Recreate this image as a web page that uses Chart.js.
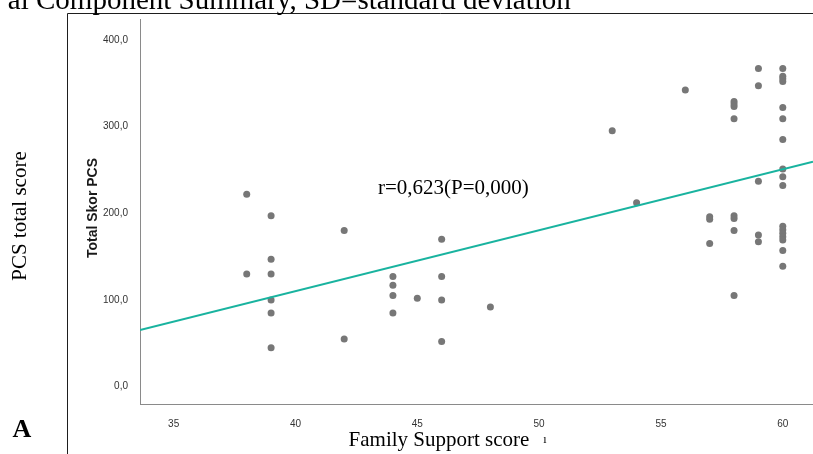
<!DOCTYPE html>
<html>
<head>
<meta charset="utf-8">
<script src="https://cdn.jsdelivr.net/npm/chart.js@4.4.1/dist/chart.umd.min.js"></script>
<style>
    html, body { margin: 0; padding: 0; background: #fff; }
    #wrap { width: 813px; height: 454px; }
</style>
</head>
<body>
<div id="wrap"><canvas id="scatterChart" width="813" height="454"></canvas></div>
<script>
// Family support vs PCS total score

// Points (x = Family Support score, y = Total Skor PCS)
const familySupport = [
    38, 38,
    39, 39, 39, 39, 39, 39,
    42, 42,
    44, 44, 44, 44,
    45,
    46, 46, 46, 46,
    48,
    53, 54, 56,
    57, 57, 57,
    58, 58, 58, 58, 58, 58, 58, 58,
    59, 59, 59, 59, 59,
    60, 60, 60, 60, 60, 60, 60, 60, 60, 60, 60, 60, 60, 60, 60, 60, 60
];
const pcsScore = [
    222, 130,
    197, 147, 130, 100, 85, 45,
    180, 55,
    127, 117, 105, 85,
    102,
    170, 127, 100, 52,
    92,
    295, 212, 342,
    196, 193, 165,
    329, 326, 323, 309, 197, 194, 180, 105,
    367, 347, 237, 175, 167,
    367, 358, 355, 352, 322, 309, 285, 251, 242, 232, 185, 181, 177, 173, 169, 157, 139
];

// Fit line end points
const fitX = [33.62, 61.24];
const fitY = [65.3, 259.5];

// Axes
const xTicks = [35, 40, 45, 50, 55, 60];
const yTicks = [0, 100, 200, 300, 400];
const xRange = [33.62, 61.24];
const yRange = [-20, 424];

// Figure texts
const topCaption = 'al Component Summary, SD=standard deviation';
const outerYTitle = 'PCS total score';
const innerYTitle = 'Total Skor PCS';
const outerXTitle = 'Family Support score';
const annotation = 'r=0,623(P=0,000)';
const panelLabel = 'A';

const serif = '"Liberation Serif", "Times New Roman", serif';
const sans = '"Liberation Sans", Arial, sans-serif';

// Draws the frame and the texts around the plot
const figureDecor = {
    id: 'figureDecor',
    beforeDraw(chart) {
        const c = chart.ctx;
        c.save();
        c.fillStyle = '#fff';
        c.fillRect(0, 0, chart.width, chart.height);
        c.restore();
    },
    afterDraw(chart) {
        const c = chart.ctx;
        c.save();

        // outer frame (top + left)
        c.strokeStyle = '#1e1e1e';
        c.lineWidth = 1;
        c.beginPath();
        c.moveTo(67.5, 454);
        c.lineTo(67.5, 13.5);
        c.lineTo(813, 13.5);
        c.stroke();

        // caption cut off at the top
        c.fillStyle = '#000';
        c.font = '29px ' + serif;
        c.textAlign = 'left';
        c.textBaseline = 'alphabetic';
        const lead = c.measureText('al ').width;
        c.fillText(topCaption, 36 - lead, 9);

        // outer y title
        c.font = '21px ' + serif;
        c.textAlign = 'center';
        c.textBaseline = 'middle';
        c.save();
        c.translate(20, 216);
        c.rotate(-Math.PI / 2);
        c.fillText(outerYTitle, 0, 0);
        c.restore();

        // inner y title
        c.font = 'bold 14px ' + sans;
        c.fillStyle = '#1a1a1a';
        c.save();
        c.translate(93, 208);
        c.rotate(-Math.PI / 2);
        c.fillText(innerYTitle, 0, 0);
        c.restore();

        // x title
        c.fillStyle = '#000';
        c.font = '21px ' + serif;
        c.fillText(outerXTitle, 439, 440);
        c.font = '12px ' + serif;
        c.fillText('ı', 545, 440);

        // correlation note
        c.font = '21px ' + serif;
        c.textAlign = 'left';
        c.fillText(annotation, 378, 188);

        // panel letter
        c.font = 'bold 26px ' + serif;
        c.textAlign = 'center';
        c.fillText(panelLabel, 22, 430);

        c.restore();
    }
};

const points = familySupport.map((x, i) => ({ x: x, y: pcsScore[i] }));
const fitLine = fitX.map((x, i) => ({ x: x, y: fitY[i] }));

const tickFont = { family: sans, size: 10 };

new Chart(document.getElementById('scatterChart'), {
    type: 'scatter',
    data: {
        datasets: [
            {
                label: 'Fit',
                type: 'line',
                data: fitLine,
                borderColor: '#19b39f',
                borderWidth: 2,
                pointRadius: 0,
                fill: false,
                tension: 0
            },
            {
                label: 'Skor',
                data: points,
                backgroundColor: '#777777',
                borderWidth: 0,
                pointRadius: 3.5,
                pointHoverRadius: 3.5
            }
        ]
    },
    options: {
        responsive: false,
        animation: false,
        events: [],
        layout: {
            autoPadding: false,
            padding: { top: 19, right: 0, bottom: 0, left: 0 }
        },
        plugins: {
            legend: { display: false },
            tooltip: { enabled: false }
        },
        scales: {
            x: {
                type: 'linear',
                min: xRange[0],
                max: xRange[1],
                afterBuildTicks: (s) => { s.ticks = xTicks.map(v => ({ value: v })); },
                afterFit: (s) => {
                    s.height = 50;
                    s.paddingLeft = 0;
                    s.paddingRight = 0;
                },
                grid: { display: false },
                border: { display: true, color: '#8a8a8a', width: 1 },
                ticks: {
                    autoSkip: false,
                    maxRotation: 0,
                    padding: 6,
                    color: '#333',
                    font: tickFont,
                    callback: (v) => String(v)
                }
            },
            y: {
                type: 'linear',
                min: yRange[0],
                max: yRange[1],
                afterBuildTicks: (s) => { s.ticks = yTicks.map(v => ({ value: v })); },
                afterFit: (s) => {
                    s.width = 140;
                    s.paddingTop = 0;
                    s.paddingBottom = 0;
                },
                grid: { display: false },
                border: { display: true, color: '#8a8a8a', width: 1 },
                ticks: {
                    padding: 4,
                    color: '#333',
                    font: tickFont,
                    callback: (v) => v.toFixed(1).replace('.', ',')
                }
            }
        }
    },
    plugins: [figureDecor]
});
</script>
</body>
</html>
